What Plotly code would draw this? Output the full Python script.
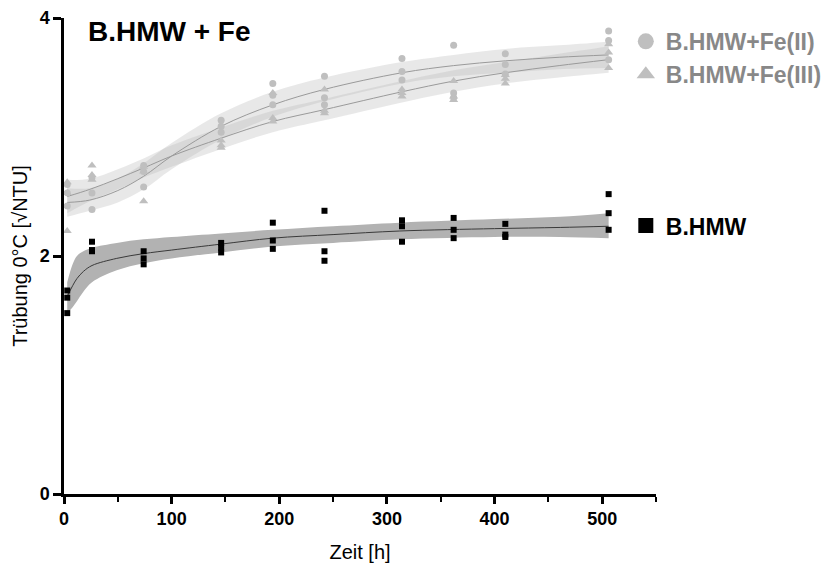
import plotly.graph_objects as go

# ---------------- data ----------------
times = [3, 26, 74, 146, 194, 242, 314, 362, 410, 506]

bhmw_vals = [[1.71, 1.65, 1.52], [2.12, 2.05, 2.04], [2.04, 1.98, 1.93], [2.11, 2.07, 2.03],
             [2.28, 2.13, 2.06], [2.38, 2.04, 1.96], [2.30, 2.25, 2.12], [2.32, 2.22, 2.15],
             [2.27, 2.18, 2.16], [2.52, 2.36, 2.22]]
fe2_vals = [[2.60, 2.53, 2.42], [2.66, 2.53, 2.39], [2.76, 2.71, 2.58], [3.14, 3.09, 3.04],
            [3.45, 3.35, 3.27], [3.51, 3.33, 3.27], [3.66, 3.55, 3.48], [3.77, 3.37, 3.33],
            [3.70, 3.61, 3.53], [3.89, 3.81, 3.65]]
fe3_vals = [[2.62, 2.53, 2.21], [2.76, 2.68, 2.64], [2.75, 2.71, 2.46], [2.97, 2.93, 2.91],
            [3.37, 3.16, 3.13], [3.40, 3.22, 3.20], [3.40, 3.37, 3.34], [3.47, 3.34, 3.31],
            [3.52, 3.49, 3.45], [3.78, 3.71, 3.58]]

# fitted curves and confidence bands
fe_fit_t = [3, 24, 50, 74, 100, 146, 194, 242, 314, 362, 410, 460, 506]
fe2_fit = [2.45, 2.47, 2.55, 2.67, 2.84, 3.09, 3.27, 3.40, 3.54, 3.60, 3.64, 3.67, 3.69]
fe2_hi = [2.57, 2.57, 2.65, 2.78, 2.95, 3.20, 3.38, 3.50, 3.63, 3.69, 3.74, 3.77, 3.80]
fe2_lo = [2.33, 2.38, 2.45, 2.56, 2.73, 2.98, 3.17, 3.30, 3.45, 3.51, 3.54, 3.57, 3.58]
fe3_fit = [2.50, 2.56, 2.65, 2.74, 2.84, 2.99, 3.13, 3.23, 3.38, 3.47, 3.54, 3.60, 3.65]
fe3_hi = [2.64, 2.65, 2.73, 2.82, 2.93, 3.08, 3.22, 3.32, 3.47, 3.56, 3.63, 3.70, 3.76]
fe3_lo = [2.36, 2.46, 2.56, 2.66, 2.75, 2.90, 3.04, 3.14, 3.29, 3.38, 3.45, 3.50, 3.54]

bhmw_fit_t = [3, 8, 12, 18, 26, 49, 74, 100, 146, 194, 250, 312, 400, 461, 506]
bhmw_fit = [1.66, 1.75, 1.81, 1.87, 1.92, 1.98, 2.02, 2.05, 2.10, 2.15, 2.18, 2.21, 2.23, 2.24, 2.25]
bhmw_hi = [1.78, 1.93, 2.00, 2.04, 2.07, 2.11, 2.14, 2.16, 2.19, 2.22, 2.25, 2.28, 2.31, 2.33, 2.36]
bhmw_lo = [1.52, 1.57, 1.62, 1.70, 1.78, 1.88, 1.94, 1.98, 2.03, 2.08, 2.11, 2.14, 2.16, 2.16, 2.15]

x_ticks = [0, 100, 200, 300, 400, 500]
y_ticks = [0, 2, 4]

title_text = "B.HMW + Fe"
x_title = "Zeit [h]"
y_title = "Trübung 0°C [√NTU]"
names = ["B.HMW+Fe(II)", "B.HMW+Fe(III)", "B.HMW"]

# ---------------- helpers ----------------
def flat(vals):
    xs, ys = [], []
    for t, reps in zip(times, vals):
        for v in reps:
            xs.append(t)
            ys.append(v)
    return xs, ys

FONT = "Liberation Sans, Arial, sans-serif"
FE_MARK = "#bfbfbf"
FE_LINE = "#9a9a9a"
FE_BAND = "rgba(185,185,185,0.33)"

fig = go.Figure()

def band(t, lo, hi, color):
    fig.add_trace(go.Scatter(x=t, y=lo, mode="lines", line=dict(width=0, shape="spline"),
                             showlegend=False, hoverinfo="skip"))
    fig.add_trace(go.Scatter(x=t, y=hi, mode="lines", line=dict(width=0, shape="spline"),
                             fill="tonexty", fillcolor=color, showlegend=False, hoverinfo="skip"))

# Fe bands + fit lines
band(fe_fit_t, fe2_lo, fe2_hi, FE_BAND)
band(fe_fit_t, fe3_lo, fe3_hi, FE_BAND)
fig.add_trace(go.Scatter(x=fe_fit_t, y=fe2_fit, mode="lines",
                         line=dict(color=FE_LINE, width=1, shape="spline"), showlegend=False))
fig.add_trace(go.Scatter(x=fe_fit_t, y=fe3_fit, mode="lines",
                         line=dict(color=FE_LINE, width=1, shape="spline"), showlegend=False))

# Fe points
x2, y2 = flat(fe2_vals)
x3, y3 = flat(fe3_vals)
fig.add_trace(go.Scatter(x=x2, y=y2, mode="markers", name=names[0],
                         marker=dict(symbol="circle", size=7, color=FE_MARK), showlegend=False))
fig.add_trace(go.Scatter(x=x3, y=y3, mode="markers", name=names[1],
                         marker=dict(symbol="triangle-up", size=8, color=FE_MARK), showlegend=False))

# B.HMW band + fit + points
band(bhmw_fit_t, bhmw_lo, bhmw_hi, "#b2b2b2")
fig.add_trace(go.Scatter(x=bhmw_fit_t, y=bhmw_fit, mode="lines",
                         line=dict(color="#3a3a3a", width=1, shape="spline"), showlegend=False))
xb, yb = flat(bhmw_vals)
fig.add_trace(go.Scatter(x=xb, y=yb, mode="markers", name=names[2],
                         marker=dict(symbol="square", size=6, color="black"), showlegend=False))

# legend entries (legend-only proxies with larger symbols)
fig.add_trace(go.Scatter(x=[None], y=[None], mode="markers", name=names[0], legend="legend",
                         marker=dict(symbol="circle", size=16, color=FE_MARK)))
fig.add_trace(go.Scatter(x=[None], y=[None], mode="markers", name=names[1], legend="legend",
                         marker=dict(symbol="triangle-up", size=16, color=FE_MARK)))
fig.add_trace(go.Scatter(x=[None], y=[None], mode="markers", name=names[2], legend="legend2",
                         marker=dict(symbol="square", size=15, color="black")))

axis_common = dict(showgrid=False, zeroline=False, showline=True, linecolor="black",
                   linewidth=2.5, ticks="outside", tickcolor="black", tickwidth=2.5,
                   automargin=False,
                   tickfont=dict(family=FONT, size=18, color="black", weight="bold"))

fig.update_layout(
    width=840, height=570,
    margin=dict(l=64, r=184, t=18, b=76, autoexpand=False),
    plot_bgcolor="white", paper_bgcolor="white",
    title=dict(text=title_text, x=0.0405, xref="paper", xanchor="left",
               y=1 - 31 / 570, yref="container", yanchor="middle", automargin=False,
               font=dict(family=FONT, size=28, color="black", weight="bold")),
    xaxis=dict(range=[0, 550], tickvals=x_ticks, ticklen=7,
               minor=dict(dtick=50, tick0=0, ticks="outside", ticklen=5, tickwidth=2, tickcolor="black"),
               title=dict(text=x_title, standoff=17, font=dict(family=FONT, size=20, color="black")),
               **axis_common),
    yaxis=dict(range=[0, 4], tickvals=y_ticks, ticklen=8,
               title=dict(text=y_title, standoff=7, font=dict(family=FONT, size=20, color="black")),
               **axis_common),
    legend=dict(x=0.949, y=0.996, xanchor="left", yanchor="top", bgcolor="rgba(0,0,0,0)",
                traceorder="normal", tracegroupgap=0,
                font=dict(family=FONT, size=23, color="#888888", weight="bold")),
    legend2=dict(x=0.949, y=0.609, xanchor="left", yanchor="top", bgcolor="rgba(0,0,0,0)",
                 font=dict(family=FONT, size=23, color="black", weight="bold")),
)

fig.write_html("out.html", config={"displayModeBar": False},
               post_script="document.body.style.margin='0';document.body.style.padding='0';")
